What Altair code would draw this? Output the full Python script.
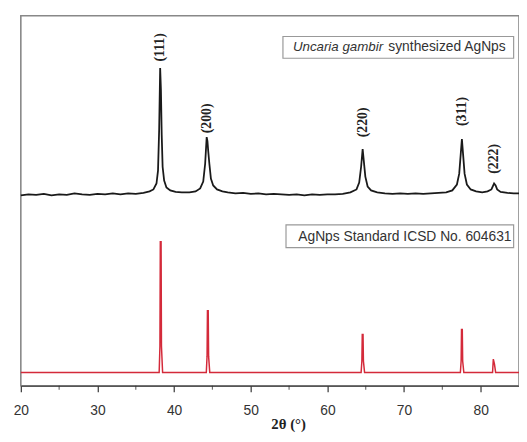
import altair as alt
import pandas as pd

# Experimental (black) XRD pattern: 2theta, intensity (arb. units)
blk_x = [20, 21, 22, 23, 24, 25, 26, 27, 28, 29, 30, 31, 32, 33, 34, 35, 36, 36.8, 37.3, 37.7, 37.9,
         38.05, 38.18, 38.28, 38.38, 38.5, 38.7, 39.0, 39.5, 40.2, 41, 42, 42.8, 43.4, 43.8, 44.05,
         44.25, 44.35, 44.45, 44.6, 44.8, 45.1, 45.6, 46.3, 47, 48, 49, 50, 51, 52, 53, 54, 55, 56, 57,
         58, 59, 60, 61, 62, 63, 63.8, 64.15, 64.4, 64.6, 64.75, 64.95, 65.25, 65.7, 66.5, 67.5, 68.5,
         69.5, 70.5, 71.5, 72.5, 73.5, 74.5, 75.5, 76.3, 76.9, 77.2, 77.4, 77.55, 77.7, 77.9, 78.2,
         78.7, 79.4, 80.2, 80.9, 81.4, 81.75, 81.95, 82.15, 82.6, 83.5, 84.3, 85]
blk_y = [193, 194, 193.5, 194.5, 193, 194, 193.5, 195, 194, 193.5, 194.5, 194, 195, 194, 195, 194.5,
         195.5, 197, 199, 205, 218, 260, 322, 300, 255, 222, 208, 201, 198, 196.5, 196, 196, 197, 200,
         207, 225, 252, 248, 238, 225, 210, 203, 199, 197, 196, 195, 195.5, 194.5, 195, 194, 194.5,
         194, 193.5, 194, 193, 194, 193.5, 194, 194, 194.5, 196, 199, 206, 222, 240, 228, 212, 202,
         198, 196, 195, 194.5, 195, 194.5, 195, 194.5, 195, 195.5, 196, 198, 204, 215, 235, 250, 235,
         215, 204, 199, 197, 196, 197, 199, 205, 203, 199, 196.5, 195.5, 195, 195]

# Standard (red) pattern
red_x = [20, 38.05, 38.15, 38.2, 38.3, 38.35, 38.5, 44.2, 44.3, 44.35, 44.45, 44.5, 44.65,
         64.4, 64.5, 64.55, 64.65, 64.7, 64.85, 77.35, 77.45, 77.5, 77.6, 77.65, 77.8,
         81.55, 81.65, 81.8, 81.95, 85]
red_y = [13.5, 13.5, 40, 146, 146, 40, 13.5, 13.5, 30, 76, 76, 30, 13.5,
         13.5, 25, 52, 52, 25, 13.5, 13.5, 25, 57, 57, 25, 13.5,
         13.5, 27, 22, 13.5, 13.5]

# Peak labels
lab_text = ["(111)", "(200)", "(220)", "(311)", "(222)"]
lab_x = [38.2, 44.25, 64.6, 77.55, 81.8]
lab_y = [343, 271, 267, 278, 230]

# Legend boxes / texts
box_x = [54.2, 54.6]
box_x2 = [84.3, 84.3]
box_y = [354, 163]
box_y2 = [332, 140]

major_ticks = [20, 30, 40, 50, 60, 70, 80]
minor_ticks = [25, 35, 45, 55, 65, 75]

XDOM = [20, 85]
YDOM = [0, 375]

black = pd.DataFrame({"x": blk_x, "y": blk_y})
red = pd.DataFrame({"x": red_x, "y": red_y})
labels = pd.DataFrame({"t": lab_text, "x": lab_x, "y": lab_y})
minors = pd.DataFrame({"x": minor_ticks, "y0": [0] * len(minor_ticks)})

xs = alt.Scale(domain=XDOM, nice=False, zero=False)
ys = alt.Scale(domain=YDOM, nice=False, zero=False)

xaxis = alt.Axis(values=major_ticks, tickSize=6, tickWidth=1.2,
                 tickColor="#333", domainColor="#333", domainWidth=1.2,
                 labelFont="Liberation Sans", labelFontSize=14,
                 labelColor="#333", grid=False, labelPadding=12, title="2θ (°)",
                 titleFont="Liberation Serif", titleFontSize=15, titleFontWeight="bold",
                 titleColor="#222", titleX=271, titleY=38, titleAlign="center",
                 titleBaseline="middle", labelOverlap=False, labelFlush=False)


def X(f="x:Q"):
    return alt.X(f, scale=xs, axis=xaxis)


def Y(f="y:Q"):
    return alt.Y(f, scale=ys, axis=None)


line_b = alt.Chart(black).mark_line(color="#1a1a1a", strokeWidth=1.8).encode(x=X(), y=Y())
line_r = alt.Chart(red).mark_line(color="#d42a3a", strokeWidth=1.5).encode(x=X(), y=Y())

minor = alt.Chart(minors).mark_tick(color="#333", thickness=1.2, size=4, yOffset=2,
                                    orient="vertical").encode(x=X(), y=Y("y0:Q"))

peak_txt = alt.Chart(labels).mark_text(angle=270, font="Liberation Serif", fontSize=14,
                                       fontWeight="bold", color="#222", align="center",
                                       baseline="middle").encode(x=X(), y=Y(), text="t:N")

boxes = pd.DataFrame({"x": box_x, "x2": box_x2, "y": box_y, "y2": box_y2})
box = alt.Chart(boxes).mark_rect(fill="white", stroke="#999", strokeWidth=1.2).encode(
    x=X(), x2="x2:Q", y=Y(), y2="y2:Q")

leg_it_df = pd.DataFrame({"t": ["Uncaria gambir"], "x": [55.5], "y": [343]})
leg_n_df = pd.DataFrame({"t": ["synthesized AgNps", "AgNps Standard ICSD No. 604631"],
                         "x": [67.95, 56.2], "y": [343, 151]})
leg_it = alt.Chart(leg_it_df).mark_text(font="Liberation Sans", fontSize=13.5, fontStyle="italic",
                                        color="#333", align="left", baseline="middle").encode(
    x=X(), y=Y(), text="t:N")
leg_n = alt.Chart(leg_n_df).mark_text(font="Liberation Sans", fontSize=14,
                                      color="#333", align="left", baseline="middle").encode(
    x=X(), y=Y(), text="t:N")

chart = alt.layer(line_r, line_b, minor, peak_txt, box, leg_it, leg_n).properties(
    width=505, height=375,
    autosize=alt.AutoSizeParams(type="none"),
    padding={"left": 13, "top": 5, "right": 0, "bottom": 46},
).configure_view(stroke="#888", strokeWidth=1.6)

chart.save("out.html", embed_options={"renderer": "svg", "actions": False})
